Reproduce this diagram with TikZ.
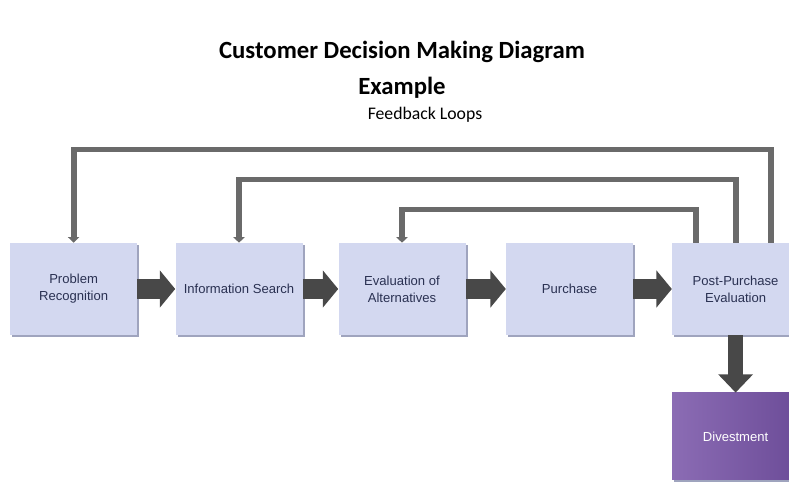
\documentclass[tikz,border=0pt]{standalone}
\usepackage{fontspec}
\setmainfont{Liberation Sans}
\newfontfamily\titlefont{Carlito}
\usetikzlibrary{positioning, arrows.meta, shadows}

\definecolor{stagefill}{HTML}{D3D8F0}
\definecolor{stageedge}{HTML}{9FA4BE}
\definecolor{stagetext}{HTML}{2A3152}
\definecolor{flowgray}{HTML}{484848}
\definecolor{loopgray}{HTML}{6A6A6A}
\definecolor{divleft}{HTML}{8B6CB4}
\definecolor{divright}{HTML}{6C4C98}

\begin{document}
\begin{tikzpicture}[
    stage/.style={fill=stagefill, minimum width=3.175cm, minimum height=2.3cm, align=center,
        font=\fontsize{9.3}{12}\selectfont, text=stagetext,
        drop shadow={shadow xshift=1.6pt, shadow yshift=-1.6pt, fill=stageedge, opacity=1}},
    flow/.style={line width=14pt, draw=flowgray, -{Triangle[width=26pt, length=11pt]}},
    feedback/.style={line width=4.2pt, draw=loopgray, -{Triangle[width=8pt, length=4pt]}}
]
        \clip (0,0) rectangle (19.725,12.05);
        \node[font=\titlefont\bfseries\fontsize{17.6}{25.5}\selectfont, align=center] (title) at (10.05,10.3) {Customer Decision Making Diagram\\Example};
        \node[font=\titlefont\fontsize{12.6}{14}\selectfont] (loops) at (10.625,9.175) {Feedback Loops};
        % stages of the decision
        \node[stage] (prob) at (1.84,4.825) {Problem\\Recognition};
        \node[stage] (info) at (5.975,4.825) {Information Search};
        \node[stage] (eval) at (10.05,4.825) {Evaluation of\\Alternatives};
        \node[stage] (purch) at (14.24,4.825) {Purchase};
        \node[stage] (post) at (18.39,4.825) {Post-Purchase\\Evaluation};
        \node[stage, minimum height=2.175cm, left color=divleft, right color=divright, text=white, drop shadow={fill=none, draw=none}] (divest) at (18.39,1.14) {Divestment};
        % forward arrows
        \draw[flow] (prob) -- (info);
        \draw[flow] (info) -- (eval);
        \draw[flow] (eval) -- (purch);
        \draw[flow] (purch) -- (post);
        \draw[line width=11pt, draw=flowgray, -{Triangle[width=24pt, length=13pt]}] (post) -- (divest);
        % feedback loops
        \draw[feedback] ([xshift=0.89cm]post.north) -- ++(0,2.33) -| (prob.north);
        \draw[feedback] (post.north) -- ++(0,1.58) -| (info.north);
        \draw[feedback] ([xshift=-0.99cm]post.north) -- ++(0,0.83) -| (eval.north);
\end{tikzpicture}
\end{document}
